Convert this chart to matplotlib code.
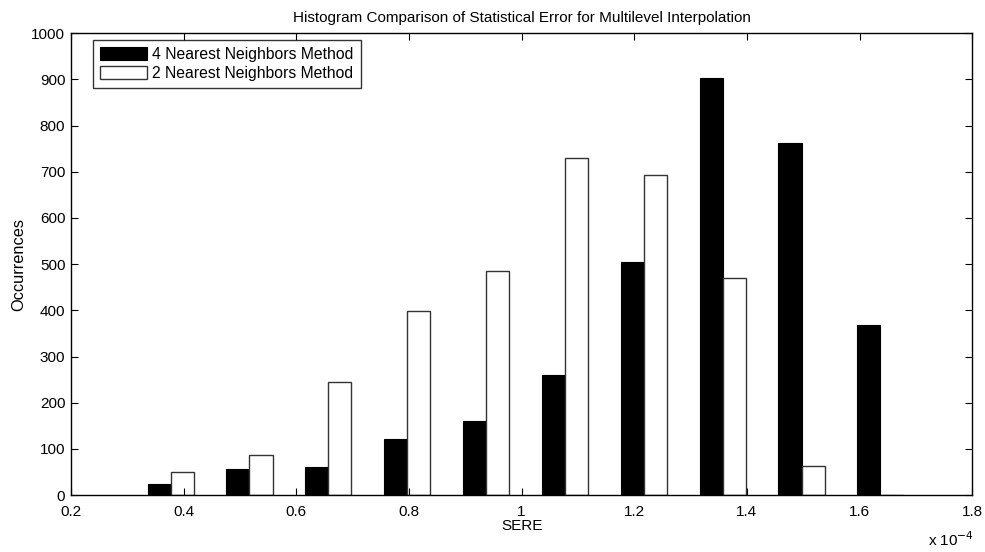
import numpy as np
import matplotlib
matplotlib.use("Agg")
import matplotlib.pyplot as plt

plt.rcParams['font.family'] = ['Liberation Sans', 'DejaVu Sans']

# bin centres (x 1e-4) and counts
centers = [0.377, 0.517, 0.657, 0.797, 0.937, 1.077, 1.217, 1.357, 1.497, 1.637]
four_nn = [25, 57, 60, 121, 160, 260, 504, 902, 762, 368]
two_nn = [50, 87, 245, 399, 486, 730, 693, 470, 63, 0]
labels = ['4 Nearest Neighbors Method', '2 Nearest Neighbors Method']

fig = plt.figure(figsize=(9.85, 5.52), dpi=100)
ax = fig.add_axes([0.072, 0.103, 0.915, 0.837])

w = 0.041
x = np.array(centers)
ax.bar(x - w / 2, four_nn, width=w, color='black', edgecolor='black', linewidth=0.8, label=labels[0])
ax.bar(x + w / 2, two_nn, width=w, color='white', edgecolor='#333333', linewidth=1.0, label=labels[1])

ax.set_xlim(0.2, 1.8)
ax.set_ylim(0, 1000)
ax.set_xticks(np.arange(0.2, 1.81, 0.2))
ax.set_xticklabels(['0.2', '0.4', '0.6', '0.8', '1', '1.2', '1.4', '1.6', '1.8'])
ax.set_yticks(range(0, 1001, 100))
ax.tick_params(direction='in', top=True, right=True, length=5, labelsize=11)
ax.tick_params(axis='x', pad=7)
ax.tick_params(axis='y', pad=4)
for s in ax.spines.values():
    s.set_linewidth(1.0)

ax.set_title('Histogram Comparison of Statistical Error for Multilevel Interpolation', fontsize=11, pad=8)
ax.set_xlabel('SERE', fontsize=11, labelpad=0)
ax.set_ylabel('Occurrences', fontsize=11.8)
fig.text(0.965, 0.022, r'x 10$^{-4}$', fontsize=11, ha='center', va='center')

leg = ax.legend(loc='upper left', bbox_to_anchor=(0.024, 0.985), fontsize=11.3, frameon=True,
                fancybox=False, edgecolor='black', handlelength=3.0, handleheight=0.9,
                borderpad=0.45, labelspacing=0.25, handletextpad=0.35, borderaxespad=0)
leg.get_frame().set_linewidth(1.0)

fig.savefig('out.png', dpi=100)
